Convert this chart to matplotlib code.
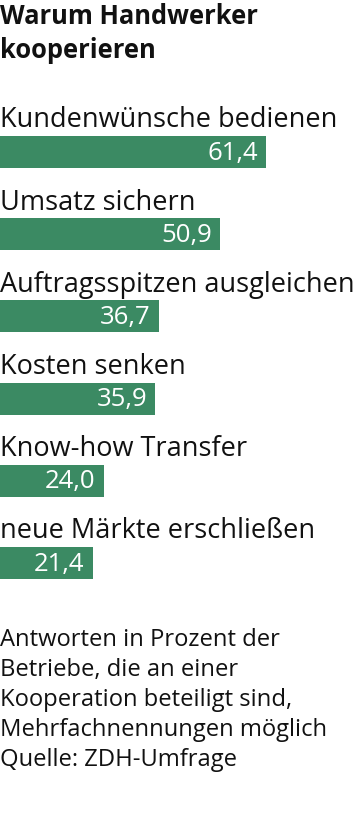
import matplotlib
matplotlib.use('Agg')
import matplotlib.pyplot as plt

# Data
categories = ["Kundenwünsche bedienen", "Umsatz sichern", "Auftragsspitzen ausgleichen",
              "Kosten senken", "Know-how Transfer", "neue Märkte erschließen"]
values = [61.4, 50.9, 36.7, 35.9, 24.0, 21.4]
value_labels = ["61,4", "50,9", "36,7", "35,9", "24,0", "21,4"]

title_lines = ["Warum Handwerker", "kooperieren"]
footnote_lines = ["Antworten in Prozent der", "Betriebe, die an einer",
                  "Kooperation beteiligt sind,", "Mehrfachnennungen möglich",
                  "Quelle: ZDH-Umfrage"]

green = '#3b8a63'
ink = '#111111'
W, H = 354, 827
plt.rcParams['font.family'] = ['Open Sans', 'DejaVu Sans']

fig = plt.figure(figsize=(W / 100, H / 100), dpi=100)

# axes in pixel terms: top 111 px, bottom 604 px
top, bottom = 111, 604
ax = fig.add_axes([0, 1 - bottom / H, 1, (bottom - top) / H])
ax.set_xlim(0, W / 4.33)
ax.set_ylim(len(categories) - 0.5, -0.5)
ax.axis('off')

y = list(range(len(categories)))
ax.barh(y, values, height=0.39, color=green, left=0)

for i, (cat, v, lab) in enumerate(zip(categories, values, value_labels)):
    ax.text(0, i - 0.30, cat, fontsize=19.5, color=ink, va='baseline', ha='left')
    ax.text(v - 1.9, i + 0.015, lab, fontsize=18.5, fontweight='medium', color='white',
            va='center', ha='right')

# title, baselines in px from top
for line, base in zip(title_lines, [24, 58]):
    fig.text(0, 1 - base / H, line, fontsize=18.4, fontweight='bold', color=ink,
             va='baseline', ha='left')

# footnote
for k, line in enumerate(footnote_lines):
    fig.text(0, 1 - (646 + 30 * k) / H, line, fontsize=17.1, color=ink,
             va='baseline', ha='left')

fig.savefig('out.png', dpi=100)
